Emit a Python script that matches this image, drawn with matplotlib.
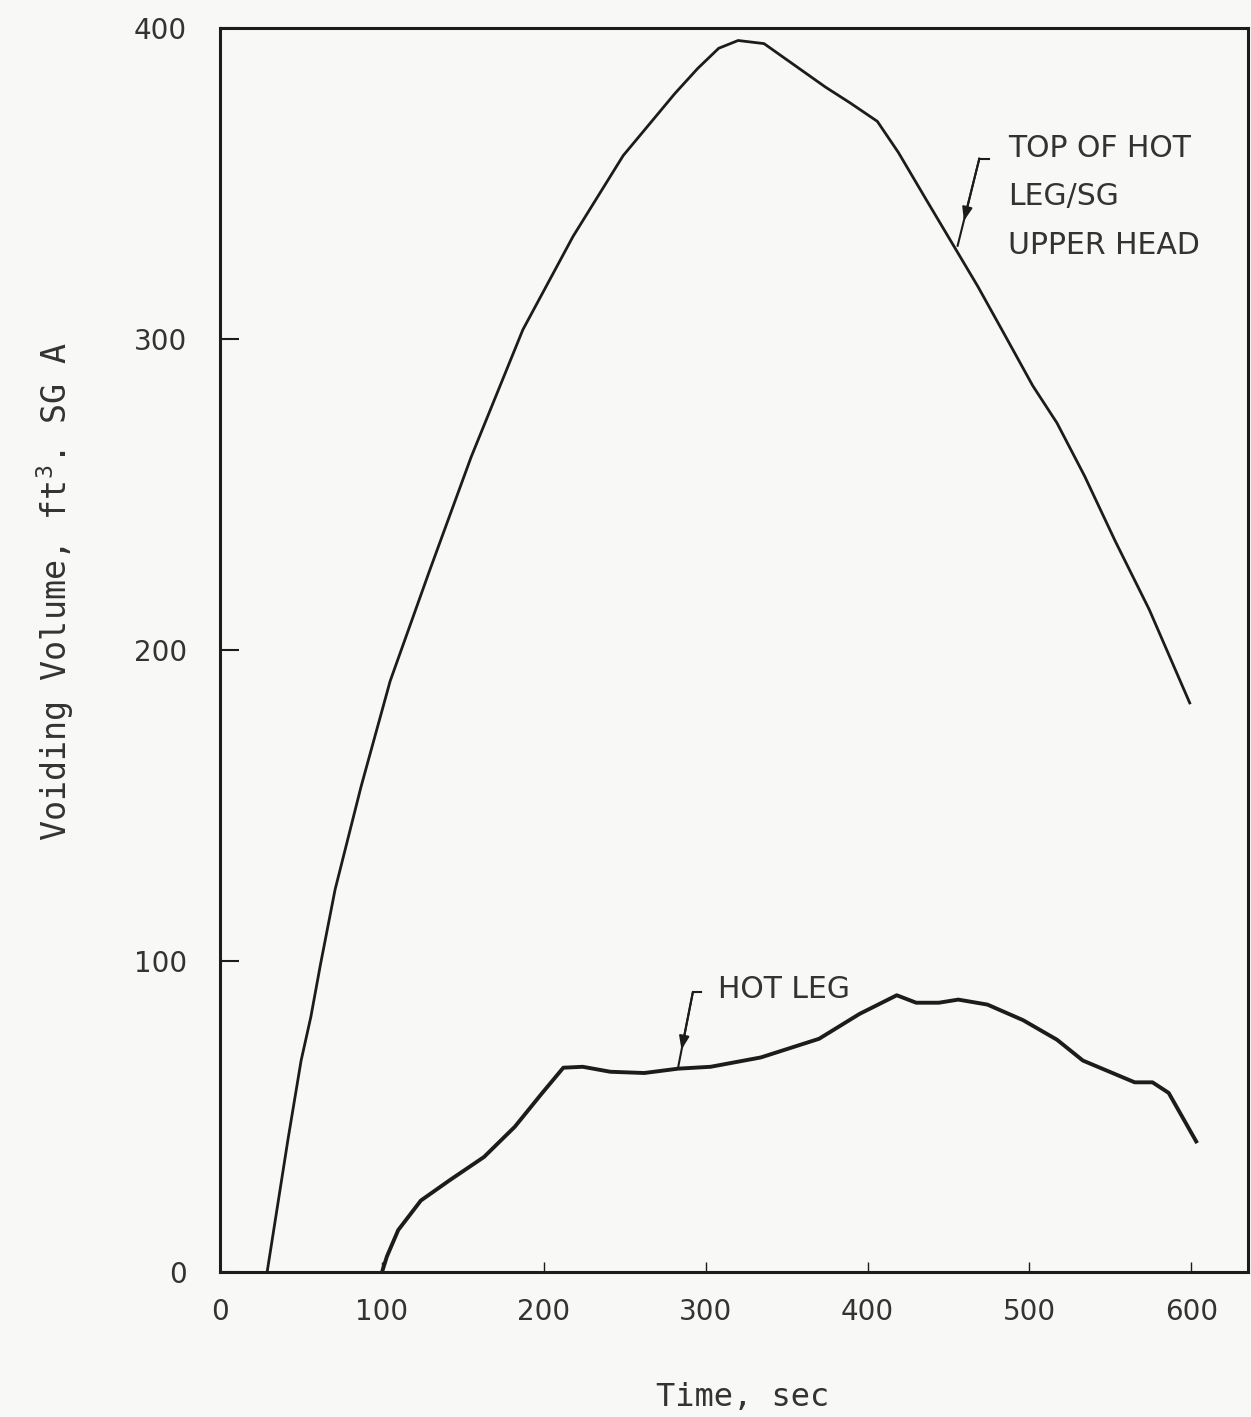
import numpy as np
import matplotlib
matplotlib.use("Agg")
import matplotlib.pyplot as plt

# Данные (время, с; объём, ft^3)
top_t = [29, 42, 50, 56, 62, 71, 87, 105, 129, 155, 187, 218, 249,
         281, 295, 308, 320, 336, 355, 374, 389, 406, 419, 436, 452, 468,
         484, 502, 517, 534, 553, 574, 599]
top_v = [0, 43, 68, 82, 99, 123, 156, 190, 225, 262, 303, 333, 359,
         379, 387, 393.5, 396, 395, 388, 381, 376, 370, 360, 345, 331, 317,
         302, 285, 273, 256, 235, 213, 183]

hot_t = [100, 103, 110, 124, 142, 163, 182, 199, 212, 224, 241, 262, 283, 303, 334,
         370, 395, 418, 430, 444, 456, 474, 496, 517, 533, 565, 576, 586, 603]
hot_v = [0, 5, 13.5, 23, 29.6, 37, 46.7, 57.6, 65.7, 66, 64.4, 64, 65.4, 66, 69,
         75, 83, 89, 86.6, 86.6, 87.6, 86, 81, 74.7, 68, 61, 61, 57.6, 42]

x_ticks = [0, 100, 200, 300, 400, 500, 600]
y_ticks = [0, 100, 200, 300, 400]

BG = "#f8f8f6"
INK = "#1c1c1c"
TXT = "#333333"

plt.rcParams["mathtext.fontset"] = "custom"
plt.rcParams["mathtext.rm"] = "DejaVu Sans Mono"
plt.rcParams["mathtext.default"] = "rm"

fig = plt.figure(figsize=(12.51, 14.17), dpi=100, facecolor=BG)
ax = fig.add_axes([0.176, 0.1023, 0.8216, 0.8779], facecolor=BG)

ax.plot(top_t, top_v, color=INK, lw=2.0, solid_joinstyle="round")
ax.plot(hot_t, hot_v, color=INK, lw=2.8, solid_joinstyle="round")

ax.set_xlim(0, 635)
ax.set_ylim(0, 400)
ax.set_xticks(x_ticks)
ax.set_yticks(y_ticks)

for s in ax.spines.values():
    s.set_linewidth(2.2)
    s.set_color(INK)

ax.tick_params(axis="y", direction="in", length=14, width=1.5, pad=24,
               labelsize=20, colors=INK, labelcolor=TXT)
ax.tick_params(axis="x", direction="in", length=7, width=1.0, pad=19,
               labelsize=20, colors=INK, labelcolor=TXT)

ax.set_xlabel("Time, sec", family="DejaVu Sans Mono", fontsize=23, color=TXT)
ax.set_ylabel(r"Voiding Volume, ft$^{3}$. SG A", family="DejaVu Sans Mono",
              fontsize=24, color=TXT)
ax.xaxis.set_label_coords(0.508, -0.088)
ax.yaxis.set_label_coords(-0.14, 0.547)

# Подписи кривых со стрелками
ax.text(487, 366, "TOP OF HOT\nLEG/SG\nUPPER HEAD", ha="left", va="top",
        fontsize=21.5, color=TXT, linespacing=1.85)
ax.plot([469, 475], [358, 358], color=INK, lw=1.5)
ax.plot([469, 455.6], [358, 330], color=INK, lw=1.5)
ax.annotate("", xy=(459.5, 338), xytext=(469, 358),
            arrowprops=dict(arrowstyle="-|>,head_length=0.8,head_width=0.3",
                            color=INK, lw=1.5, shrinkA=0, shrinkB=0))

ax.text(307.5, 90.8, "HOT LEG", ha="left", va="center",
        fontsize=21.5, color=TXT)
ax.plot([292, 297], [89.9, 89.9], color=INK, lw=1.5)
ax.plot([292, 283], [89.9, 66], color=INK, lw=1.5)
ax.annotate("", xy=(285, 71.5), xytext=(292, 89.9),
            arrowprops=dict(arrowstyle="-|>,head_length=0.8,head_width=0.3",
                            color=INK, lw=1.5, shrinkA=0, shrinkB=0))

fig.savefig("out.png", dpi=100, facecolor=BG)
